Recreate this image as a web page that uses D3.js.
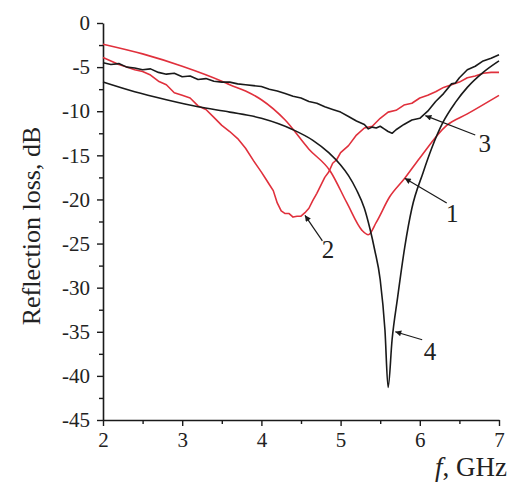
<!DOCTYPE html>
<html>
<head>
<meta charset="utf-8">
<script src="https://cdn.jsdelivr.net/npm/d3@7"></script>
<style>
  body { margin: 0; background: #fff; }
  svg { font-family: "Liberation Serif", "Times New Roman", serif; }
</style>
</head>
<body>
<svg id="canvas" width="518" height="488"></svg>
<script>
// curve 1 - red, smooth
let curve1F = [2.0, 2.5, 3.0, 3.5, 3.6, 3.8, 4.0, 4.3, 4.6, 4.87, 5.08, 5.27, 5.35, 5.45, 5.62, 5.81, 6.0, 6.34, 6.6, 7.0]
let curve1V = [-2.4, -3.5, -4.9, -6.6, -7.0, -7.7, -8.7, -11.0, -14.3, -16.8, -20.4, -23.5, -24.0, -22.6, -19.7, -17.6, -15.3, -11.6, -10.3, -8.2]

// curve 2 - red, noisy
let curve2F = [2.0, 2.1, 2.2, 2.3, 2.4, 2.5, 2.6, 2.7, 2.8, 2.9, 3.0, 3.1, 3.2, 3.3, 3.4, 3.5, 3.6, 3.7, 3.8, 3.9,
               4.0, 4.05, 4.1, 4.15, 4.2, 4.25, 4.3, 4.35, 4.4, 4.45, 4.5, 4.55, 4.6, 4.65, 4.7, 4.75, 4.8, 4.85, 4.9, 4.95,
               5.0, 5.1, 5.2, 5.3, 5.4, 5.5, 5.6, 5.7, 5.8, 5.9, 6.0, 6.1, 6.2, 6.3, 6.4, 6.5, 6.6, 6.7, 6.8, 6.9, 7.0]
let curve2V = [-3.9, -4.3, -4.7, -5.0, -5.3, -5.5, -5.9, -6.6, -7.0, -7.9, -8.2, -8.5, -9.4, -9.8, -10.7, -11.6, -12.3, -13.1, -14.2, -15.6,
               -16.9, -17.6, -18.3, -19.0, -20.4, -21.3, -21.6, -21.6, -22.0, -21.9, -21.9, -21.5, -21.0, -20.1, -19.3, -18.4, -17.5, -16.9, -15.9, -15.5,
               -14.7, -13.9, -12.7, -11.9, -11.7, -10.8, -10.1, -9.9, -9.3, -9.1, -8.5, -8.2, -7.8, -7.3, -7.0, -6.7, -6.2, -6.0, -5.7, -5.6, -5.6]

// curve 3 - black, noisy
let curve3F = [2.0, 2.1, 2.2, 2.3, 2.4, 2.5, 2.6, 2.7, 2.8, 2.9, 3.0, 3.1, 3.2, 3.3, 3.4, 3.5, 3.6, 3.7, 3.8, 3.9,
               4.0, 4.1, 4.2, 4.3, 4.4, 4.5, 4.6, 4.7, 4.8, 4.9, 5.0, 5.1, 5.2, 5.3, 5.35, 5.4, 5.45, 5.5, 5.55, 5.6,
               5.65, 5.7, 5.8, 5.9, 6.0, 6.1, 6.2, 6.3, 6.4, 6.45, 6.5, 6.6, 6.7, 6.8, 6.9, 7.0]
let curve3V = [-4.5, -4.7, -4.6, -5.0, -5.1, -5.3, -5.2, -5.6, -5.8, -5.7, -6.1, -6.0, -6.4, -6.3, -6.6, -6.7, -6.7, -6.9, -7.0, -7.1,
               -7.2, -7.5, -7.7, -8.0, -8.3, -8.5, -8.9, -9.1, -9.5, -9.8, -10.1, -10.6, -11.1, -11.5, -12.0, -11.8, -11.9, -11.7, -12.0, -12.3,
               -12.5, -12.1, -11.5, -11.0, -10.8, -10.0, -8.9, -8.0, -6.9, -6.8, -6.2, -5.3, -4.9, -4.3, -4.0, -3.6]

// curve 4 - black, smooth
let curve4F = [2.0, 2.4, 2.8, 3.2, 3.6, 4.0, 4.4, 4.65, 4.85, 5.0, 5.1, 5.2, 5.3, 5.37, 5.43, 5.5, 5.56, 5.6,
               5.65, 5.72, 5.81, 5.9, 6.04, 6.15, 6.29, 6.45, 6.6, 6.8, 7.0]
let curve4V = [-6.7, -7.8, -8.7, -9.5, -10.1, -10.8, -12.1, -13.3, -14.7, -16.1, -17.3, -18.9, -21.0, -23.3, -25.7, -29.1, -34.8, -41.3,
               -35.9, -31.1, -25.4, -21.0, -17.0, -14.2, -11.3, -9.0, -7.3, -5.6, -4.3]

let xTicks = [2, 3, 4, 5, 6, 7]
let xMinor = [2.5, 3.5, 4.5, 5.5, 6.5]
let yTicks = [0, -5, -10, -15, -20, -25, -30, -35, -40, -45]
let yMinor = [-2.5, -7.5, -12.5, -17.5, -22.5, -27.5, -32.5, -37.5, -42.5]

// curve labels, with arrow tail and tip
let labelNames = ['1', '2', '3', '4']
let labelPos = [[6.41, -21.6], [4.84, -25.7], [6.82, -13.7], [6.13, -37.2]]
let arrowTail = [[6.34, -20.4], [4.77, -24.7], [6.70, -12.7], [6.03, -35.9]]
let arrowTip = [[5.81, -17.6], [4.55, -21.8], [6.07, -10.5], [5.69, -35.0]]

let red = '#e0303c'
let black = '#1a1a1a'

let canvas = d3.select('#canvas')

let xScale = d3.scaleLinear().domain([2, 7]).range([103, 499])
let yScale = d3.scaleLinear().domain([-45, 0]).range([420, 23])

let drawAxes = () => {
    let xAxis = canvas.append('g')
        .attr('transform', 'translate(0, 420)')
        .call(d3.axisBottom(xScale).tickValues(xTicks).tickFormat(d3.format('d')).tickSize(6).tickSizeOuter(0))
    let yAxis = canvas.append('g')
        .attr('transform', 'translate(103, 0)')
        .call(d3.axisLeft(yScale).tickValues(yTicks).tickFormat(d3.format('d')).tickSize(6).tickSizeOuter(0))

    canvas.append('g')
        .attr('transform', 'translate(0, 420)')
        .call(d3.axisBottom(xScale).tickValues(xMinor).tickFormat('').tickSize(4).tickSizeOuter(0))
        .select('.domain').remove()
    canvas.append('g')
        .attr('transform', 'translate(103, 0)')
        .call(d3.axisLeft(yScale).tickValues(yMinor).tickFormat('').tickSize(4).tickSizeOuter(0))
        .select('.domain').remove()

    canvas.selectAll('.domain').attr('stroke', black).attr('stroke-width', 1.6)
    canvas.selectAll('.tick line').attr('stroke', black).attr('stroke-width', 1.4)

    xAxis.selectAll('text')
        .attr('font-family', '"Liberation Serif", serif')
        .attr('font-size', 21)
        .attr('fill', '#222')
        .attr('y', 12)
    yAxis.selectAll('text')
        .attr('font-family', '"Liberation Serif", serif')
        .attr('font-size', 21)
        .attr('fill', '#222')
        .attr('x', -13)
        .text((d) => d === 0 ? '0' : '-' + Math.abs(d))

    canvas.append('text')
        .attr('transform', 'translate(40, 226) rotate(-90)')
        .attr('text-anchor', 'middle')
        .attr('font-size', 26)
        .attr('fill', '#222')
        .text('Reflection loss, dB')

    let xLabel = canvas.append('text')
        .attr('x', 507)
        .attr('y', 476)
        .attr('text-anchor', 'end')
        .attr('font-size', 27)
        .attr('fill', '#222')
    xLabel.append('tspan').attr('font-style', 'italic').text('f')
    xLabel.append('tspan').text(', GHz')
}

let drawCurves = () => {
    let line = d3.line()
        .x((d) => xScale(d[0]))
        .y((d) => yScale(d[1]))
        .curve(d3.curveMonotoneX)

    let lineRough = d3.line()
        .x((d) => xScale(d[0]))
        .y((d) => yScale(d[1]))

    let curves = [
        { f: curve1F, v: curve1V, color: red, gen: line },
        { f: curve2F, v: curve2V, color: red, gen: lineRough },
        { f: curve3F, v: curve3V, color: black, gen: lineRough },
        { f: curve4F, v: curve4V, color: black, gen: line }
    ]

    curves.forEach((c) => {
        let pts = c.f.map((f, i) => [f, c.v[i]])
        canvas.append('path')
            .attr('d', c.gen(pts))
            .attr('fill', 'none')
            .attr('stroke', c.color)
            .attr('stroke-width', 1.6)
            .attr('stroke-linejoin', 'round')
    })
}

let drawLabels = () => {
    canvas.append('defs').append('marker')
        .attr('id', 'head')
        .attr('viewBox', '0 0 10 10')
        .attr('refX', 10)
        .attr('refY', 5)
        .attr('markerWidth', 10)
        .attr('markerHeight', 6)
        .attr('markerUnits', 'userSpaceOnUse')
        .attr('orient', 'auto')
        .append('path')
        .attr('d', 'M0,0 L10,5 L0,10 Z')
        .attr('fill', black)

    labelNames.forEach((name, i) => {
        canvas.append('line')
            .attr('x1', xScale(arrowTail[i][0]))
            .attr('y1', yScale(arrowTail[i][1]))
            .attr('x2', xScale(arrowTip[i][0]))
            .attr('y2', yScale(arrowTip[i][1]))
            .attr('stroke', black)
            .attr('stroke-width', 1.2)
            .attr('marker-end', 'url(#head)')

        canvas.append('text')
            .attr('x', xScale(labelPos[i][0]))
            .attr('y', yScale(labelPos[i][1]))
            .attr('text-anchor', 'middle')
            .attr('dominant-baseline', 'central')
            .attr('font-size', 25)
            .attr('fill', '#222')
            .text(name)
    })
}

drawAxes()
drawCurves()
drawLabels()
</script>
</body>
</html>
